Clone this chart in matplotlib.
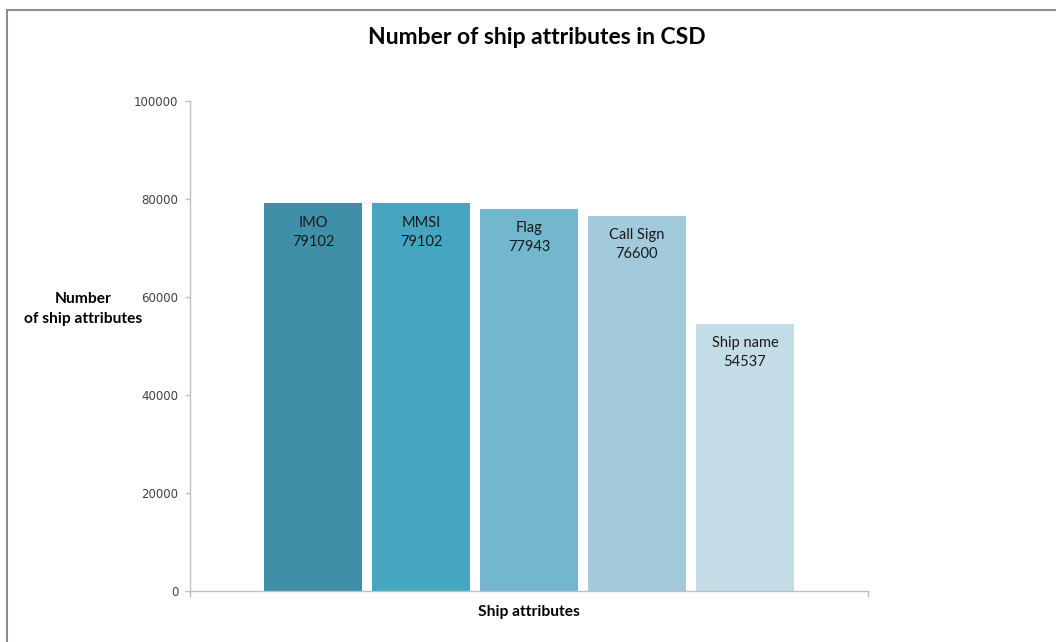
import matplotlib
matplotlib.use("Agg")
import matplotlib.pyplot as plt
from matplotlib.patches import Rectangle

categories = ["IMO", "MMSI", "Flag", "Call Sign", "Ship name"]
values = [79102, 79102, 77943, 76600, 54537]
colors = ["#3F8FA8", "#46A5C0", "#72B7CE", "#A2CADB", "#C3DCE5"]
yticks = [0, 20000, 40000, 60000, 80000, 100000]

fig = plt.figure(figsize=(10.56, 6.42), dpi=100)
fig.patches.append(Rectangle((7/1056, -0.01), 1.1, 1 - 10/642 + 0.01, transform=fig.transFigure,
                             fill=False, edgecolor="#8c8c8c", linewidth=1.5, zorder=10))

ax = fig.add_axes([190/1056, 1 - 591/642, 678/1056, 490/642])
x = list(range(len(categories)))
ax.bar(x, values, width=98/108, color=colors, edgecolor="none")
for xi, c, v in zip(x, categories, values):
    ax.text(xi, v - 2500, f"{c}\n{v}", ha="center", va="top", fontsize=10.5,
            family=["Lato", "DejaVu Sans"], color="#1a1a1a", linespacing=1.45)

ax.set_xlim(2 - 339/108, 2 + 339/108)
ax.set_ylim(0, 100000)
ax.set_yticks(yticks)
ax.set_yticklabels([str(t) for t in yticks], fontsize=8.5, color="#404040", family="DejaVu Sans")
ax.tick_params(axis="y", length=3.5, color="#bfbfbf", width=1, pad=5)
ax.set_xticks([2 - 339/108, 2 + 339/108])
ax.set_xticklabels([])
ax.tick_params(axis="x", length=4, color="#bfbfbf", width=1)
for s in ["top", "right"]:
    ax.spines[s].set_visible(False)
for s in ["left", "bottom"]:
    ax.spines[s].set_color("#bfbfbf")
    ax.spines[s].set_linewidth(1)

fig.text(537/1056, 1 - 38/642, "Number of ship attributes in CSD", ha="center", va="center",
         fontsize=16.5, fontweight="bold", family=["Lato", "DejaVu Sans"], color="#000000")
fig.text(83/1056, 1 - 309/642, "Number\nof ship attributes", ha="center", va="center",
         fontsize=11.2, fontweight="bold", family=["Lato", "DejaVu Sans"], color="#000000",
         linespacing=1.5)
fig.text(529/1056, 1 - 612/642, "Ship attributes", ha="center", va="center",
         fontsize=11.2, fontweight="bold", family=["Lato", "DejaVu Sans"], color="#000000")

fig.savefig("out.png", dpi=100)
